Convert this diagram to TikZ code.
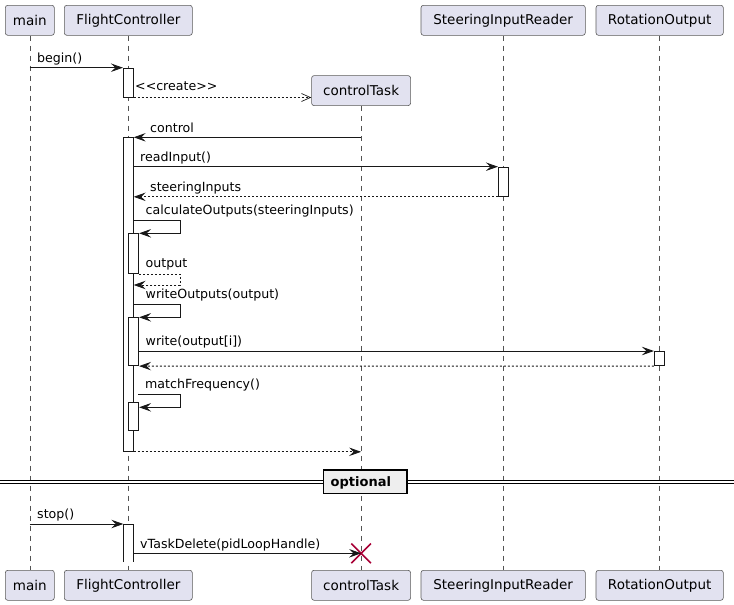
\documentclass[tikz,border=0pt]{standalone}
\usepackage{fontspec}
\setmainfont{DejaVu Sans}
\usetikzlibrary{arrows.meta,shapes.misc}
\definecolor{partfill}{HTML}{E2E2F0}
\definecolor{partline}{HTML}{5A5A5A}
\definecolor{ink}{HTML}{181818}
\definecolor{killred}{HTML}{A80036}
\definecolor{sepfill}{HTML}{EEEEEE}
\begin{document}
\begin{tikzpicture}[x=1pt,y=-1pt,
  part/.style={draw=partline, line width=0.6pt, fill=partfill, rounded corners=2.5pt,
    minimum height=30pt, inner sep=0pt, anchor=north west,
    font=\fontsize{13.5}{16}\selectfont},
  lifeline/.style={draw=ink!75, line width=0.5pt, dash pattern=on 5pt off 5pt},
  act/.style={draw=ink, fill=white, line width=0.8pt, minimum width=10pt,
    inner sep=0pt, anchor=north},
  subact/.style={act, minimum width=10.4pt},
  msg/.style={draw=ink, line width=0.8pt, -{Stealth[length=12pt,width=8.5pt,inset=4.5pt]}},
  reply/.style={msg, dash pattern=on 2pt off 2pt},
  createmsg/.style={draw=ink, line width=0.7pt, dash pattern=on 2pt off 2pt,
    -{Straight Barb[length=9pt,width=8pt,line width=0.7pt]}},
  lbl/.style={anchor=base west, inner sep=0pt, font=\fontsize{12.6}{15}\selectfont},
  kill/.style={cross out, draw=killred, line width=1.6pt, minimum size=18pt, inner sep=0pt}]

\useasboundingbox (0,0) rectangle (734,605);

% participants, top row
\node[part, minimum width=49pt]    (mainT) at (5,5)       {main};
\node[part, minimum width=128pt]   (fcT)   at (64,5)      {FlightController};
\node[part, minimum width=99pt]    (ctT)   at (311.3,75.3) {controlTask};
\node[part, minimum width=164.3pt] (sirT)  at (420.7,5)   {SteeringInputReader};
\node[part, minimum width=127.3pt] (roT)   at (595.7,5)   {RotationOutput};

% participants, bottom row
\node[part, minimum width=49pt]    (mainB) at (5,570)       {main};
\node[part, minimum width=128pt]   (fcB)   at (64,570)      {FlightController};
\node[part, minimum width=99pt]    (ctB)   at (311.3,570)   {controlTask};
\node[part, minimum width=164.3pt] (sirB)  at (420.7,570)   {SteeringInputReader};
\node[part, minimum width=127.3pt] (roB)   at (595.7,570)   {RotationOutput};

% lifelines
\draw[lifeline] (mainT.south) -- (mainB.north);
\draw[lifeline] (fcT.south) -- (fcB.north);
\draw[lifeline] (ctT.south) -- (ctB.north);
\draw[lifeline] (sirT.south) -- (sirB.north);
\draw[lifeline] (roT.south) -- (roB.north);

% separator
\draw[line width=1.1pt] (0,480.3) -- (734,480.3);
\draw[line width=1.1pt] (0,483.7) -- (734,483.7);
\node[draw=black, fill=sepfill, line width=1.6pt, minimum width=83.3pt, minimum height=23.4pt,
  inner sep=0pt, anchor=north west] (optBox) at (322.7,469.3) {};
\node[anchor=base west, inner sep=0pt, font=\fontsize{13}{15}\selectfont\bfseries]
  (optLbl) at (330.5,486) {optional};

% activation bars
\node[act, minimum height=29pt]    (fcA1)  at (128.3,67.7)  {};
\node[act, minimum height=313.7pt] (fcA2)  at (128.3,137.3) {};
\node[subact, minimum height=40pt] (calcA) at (133.5,233.3) {};
\node[subact, minimum height=48pt] (wrA)   at (133.5,317.3) {};
\node[subact, minimum height=28pt] (mfA)   at (133.5,402.3) {};
\node[act, minimum height=29.3pt]  (sirA)  at (503.3,166.7) {};
\node[act, minimum height=14.3pt]  (roA)   at (659.3,351)   {};
% last bar runs on past the bottom of the sequence
\coordinate (fcA3nw) at (123.3,524);
\coordinate (fcA3ne) at (133.3,524);
\fill[white] (fcA3nw) rectangle (133.3,562);
\draw[ink, line width=0.8pt] (123.3,562) -- (fcA3nw) -- (fcA3ne) -- (133.3,562);

% begin and task creation
\draw[msg] (mainT.south |- fcA1.north) -- (fcA1.north west);
\node[lbl] (lBegin) at (37,62.7) {begin()};
\draw[createmsg] (fcA1.south east) -- (ctT.west |- fcA1.south);
\node[lbl] (lCreate) at (135,90.7) {<{}<create>{}>};

% control loop body
\draw[msg] (ctT.south |- fcA2.north) -- (fcA2.north east);
\node[lbl] (lControl) at (150,132.3) {control};
\draw[msg] (fcA2.east |- sirA.north) -- (sirA.north west);
\node[lbl] (lRead) at (140,161.5) {readInput()};
\draw[reply] (sirA.south west) -- (fcA2.east |- sirA.south);
\node[lbl] (lSteer) at (150,191) {steeringInputs};

\coordinate (calcTurn) at (180.3,220);
\draw[msg] (fcA2.east |- calcTurn) -- (calcTurn) -- (calcTurn |- calcA.north) -- (calcA.north east);
\node[lbl] (lCalc) at (145.5,214.5) {calculateOutputs(steeringInputs)};
\coordinate (outTurn) at (180.3,285);
\draw[reply] (calcA.south east) -- (outTurn |- calcA.south) -- (outTurn) -- (fcA2.east |- outTurn);
\node[lbl] (lOut) at (145.5,267.5) {output};

\coordinate (wrTurn) at (180.3,304.3);
\draw[msg] (fcA2.east |- wrTurn) -- (wrTurn) -- (wrTurn |- wrA.north) -- (wrA.north east);
\node[lbl] (lWrOuts) at (145.5,298.5) {writeOutputs(output)};
\draw[msg] (wrA.east |- roA.north) -- (roA.north west);
\node[lbl] (lWrite) at (145.5,345.3) {write(output[i])};
\draw[reply] (roA.south west) -- (wrA.south east);

\coordinate (mfStart) at (138.3,394);
\coordinate (mfTurn) at (180.3,394);
\draw[msg] (mfStart) -- (mfTurn) -- (180.3,407.3) -- (mfA.east |- 0,407.3);
\node[lbl] (lMatch) at (145,388.5) {matchFrequency()};

\draw[reply] (fcA2.south east) -- (ctT.south |- fcA2.south);

% shutdown
\draw[msg] (mainT.south |- fcA3nw) -- (fcA3nw);
\node[lbl] (lStop) at (37,518.8) {stop()};
\node[kill] (ctKill) at (ctT.south |- 0,553.3) {};
\draw[msg] (fcA3ne |- ctKill) -- (ctKill.center);
\node[lbl] (lDelete) at (140,548) {vTaskDelete(pidLoopHandle)};
\end{tikzpicture}
\end{document}
